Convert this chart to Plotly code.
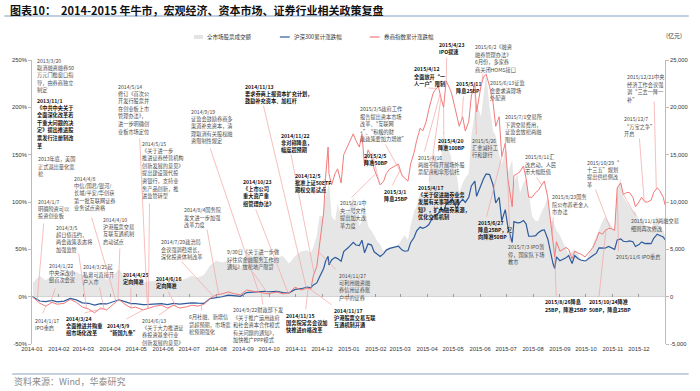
import plotly.graph_objects as go
import pandas as pd
import numpy as np

# ---------------- data ----------------
dates = [
    "2014-01-02", "2014-01-10", "2014-01-17", "2014-01-24", "2014-01-30",
    "2014-02-07", "2014-02-14", "2014-02-21", "2014-02-28",
    "2014-03-07", "2014-03-14", "2014-03-21", "2014-03-28",
    "2014-04-04", "2014-04-11", "2014-04-18", "2014-04-25", "2014-04-30",
    "2014-05-09", "2014-05-16", "2014-05-23", "2014-05-30",
    "2014-06-06", "2014-06-13", "2014-06-20", "2014-06-27",
    "2014-07-04", "2014-07-11", "2014-07-18", "2014-07-25",
    "2014-08-01", "2014-08-08", "2014-08-15", "2014-08-22", "2014-08-29",
    "2014-09-05", "2014-09-12", "2014-09-19", "2014-09-26", "2014-09-30",
    "2014-10-10", "2014-10-17", "2014-10-24", "2014-10-31",
    "2014-11-07", "2014-11-14", "2014-11-18", "2014-11-21", "2014-11-25", "2014-11-28",
    "2014-12-02", "2014-12-03", "2014-12-05", "2014-12-08", "2014-12-09", "2014-12-12",
    "2014-12-16", "2014-12-19", "2014-12-23", "2014-12-26", "2014-12-31",
    "2015-01-06", "2015-01-09", "2015-01-13", "2015-01-16", "2015-01-19", "2015-01-23",
    "2015-01-27", "2015-01-30",
    "2015-02-03", "2015-02-06", "2015-02-10", "2015-02-13", "2015-02-17", "2015-02-27",
    "2015-03-03", "2015-03-06", "2015-03-10", "2015-03-13", "2015-03-17", "2015-03-20",
    "2015-03-24", "2015-03-27", "2015-03-31",
    "2015-04-03", "2015-04-08", "2015-04-10", "2015-04-14", "2015-04-17", "2015-04-20",
    "2015-04-23", "2015-04-28", "2015-04-30",
    "2015-05-05", "2015-05-08", "2015-05-12", "2015-05-15", "2015-05-19", "2015-05-22",
    "2015-05-26", "2015-05-28",
    "2015-06-02", "2015-06-05", "2015-06-08", "2015-06-12", "2015-06-16", "2015-06-19",
    "2015-06-23", "2015-06-26", "2015-06-30",
    "2015-07-03", "2015-07-08", "2015-07-10", "2015-07-14", "2015-07-17", "2015-07-21",
    "2015-07-24", "2015-07-27", "2015-07-31",
    "2015-08-04", "2015-08-07", "2015-08-11", "2015-08-14", "2015-08-18", "2015-08-21",
    "2015-08-24", "2015-08-26", "2015-08-28",
    "2015-09-01", "2015-09-08", "2015-09-11", "2015-09-15", "2015-09-18", "2015-09-22",
    "2015-09-25", "2015-09-30",
    "2015-10-09", "2015-10-13", "2015-10-16", "2015-10-20", "2015-10-23", "2015-10-27",
    "2015-10-30",
    "2015-11-03", "2015-11-06", "2015-11-10", "2015-11-13", "2015-11-17", "2015-11-20",
    "2015-11-24", "2015-11-27",
    "2015-12-01", "2015-12-04", "2015-12-08", "2015-12-11", "2015-12-15", "2015-12-18",
    "2015-12-22", "2015-12-25", "2015-12-29", "2015-12-31",
]

hs300_pct = [
    -0.3, -4.6, -5.3, -4.0, -5.5,
    -4.7, -1.9, -3.4, -6.5,
    -7.0, -8.9, -7.4, -7.7,
    -5.9, -3.3, -5.3, -7.3, -7.3,
    -8.4, -8.2, -7.6, -7.3,
    -8.4, -7.0, -7.9, -7.5,
    -6.5, -6.9, -7.1, -2.0,
    -1.1, -0.1, 1.7, 0.6, 0.3,
    4.3, 4.8, 5.3, 5.7, 5.2,
    5.6, 4.3, 4.0, 7.7,
    8.4, 10.2, 9.3, 12.4, 14.5, 20.5,
    27.0, 30.0, 37.1, 42.6, 33.5, 38.8,
    41.5, 40.2, 37.5, 47.6, 51.6,
    57.3, 54.6, 54.0, 59.7, 46.3, 55.8, 54.5, 47.4,
    45.0, 42.5, 45.5, 49.2, 51.0, 53.3,
    49.5, 48.0, 48.5, 57.0, 62.5, 69.5, 73.5, 72.2, 73.9,
    76.2, 84.5, 85.4, 88.0, 94.5, 90.0, 98.0, 100.5, 103.8,
    93.0, 98.5, 103.0, 99.6, 105.0, 117.0, 122.0, 106.0,
    118.5, 124.5, 129.7, 129.0, 118.0, 99.0, 105.0, 80.0, 92.0,
    74.0, 57.2, 79.3, 78.0, 78.2, 80.5, 77.0, 63.9, 63.8,
    64.5, 67.5, 70.0, 70.6, 61.0, 45.9, 35.0, 29.8, 42.0,
    38.0, 41.0, 43.4, 35.0, 43.3, 40.0, 38.7, 37.5,
    43.4, 46.0, 51.6, 51.0, 51.2, 53.0, 51.7,
    50.0, 60.0, 61.0, 58.5, 58.0, 58.9, 58.0, 53.0,
    55.0, 57.8, 56.0, 56.3, 56.0, 61.7, 66.0, 64.7, 63.0, 60.1,
]

broker_pct = [
    -0.5, -7, -10, -6, -8,
    -7, -3, -6, -11,
    -13, -17, -12, -14,
    -9, -3, -8, -12, -11,
    -14, -12, -10, -9,
    -12, -9, -12, -11,
    -9, -10, -8, -2,
    2, 3, 5, 3, 2,
    7, 6, 5, 4, 3,
    5, 3, 4, 10,
    7, 9, 8, 22, 32, 55,
    80, 90, 125, 158, 130, 118,
    130, 135, 120, 150, 160,
    172, 165, 158, 172, 138, 155, 148, 135,
    125, 118, 122, 130, 135, 140,
    128, 125, 122, 140, 152, 165, 178, 175, 185,
    198, 215, 218, 222, 210, 200, 228, 218, 212,
    190, 180, 190, 175, 185, 212, 225, 195,
    222, 232, 235, 222, 205, 180, 190, 148, 162,
    125, 95, 128, 130, 132, 138, 125, 105, 105,
    110, 112, 118, 122, 105, 80, 55, 42, 58,
    48, 52, 50, 40, 48, 46, 45, 42,
    52, 60, 68, 66, 70, 72, 72,
    70, 115, 120, 108, 110, 110, 105, 95,
    100, 105, 100, 100, 102, 110, 115, 112, 105, 97,
]

turnover = [
    1500, 2200, 1700, 2300, 1500,
    1800, 2800, 2600, 2300,
    2100, 1900, 2200, 1800,
    2200, 2900, 2100, 1800, 1600,
    1500, 1600, 1700, 1800,
    1500, 1800, 1700, 1900,
    2200, 2000, 2300, 3300,
    3800, 3600, 3800, 3200, 3000,
    4600, 4200, 4800, 4300, 3900,
    4100, 4300, 3500, 4300,
    4800, 4900, 4600, 5200, 6500, 8500,
    8500, 9500, 10500, 11500, 12400, 8500,
    8000, 9800, 8500, 8800, 9000,
    10500, 9500, 7500, 8000, 9800, 7500, 7000, 6500,
    5800, 5500, 4800, 5000, 5200, 5500,
    6000, 6500, 6000, 7500, 9000, 9500, 11000, 10500, 11500,
    11500, 15000, 15000, 14000, 14500, 17500, 16000, 15000, 14000,
    13000, 11000, 12000, 12500, 13000, 17000, 19500, 20500,
    19000, 21000, 23500, 20000, 17500, 17000, 15000, 14000, 15500,
    13000, 14500, 12000, 13000, 11000, 12000, 12500, 11000, 8500,
    8000, 8000, 9000, 9500, 10500, 8000, 8000, 7500, 7000,
    6500, 5000, 4500, 4800, 5000, 4500, 4000, 3500,
    5500, 6500, 7000, 8000, 8500, 8000, 7500,
    7000, 11500, 12500, 10500, 10000, 9500, 9000, 9000,
    8000, 8500, 7500, 7500, 7000, 8000, 8500, 7500, 7000, 6500,
]

assert len(dates) == len(hs300_pct) == len(broker_pct) == len(turnover)

left_ticks = [-50, 0, 50, 100, 150, 200, 250]
right_ticks = [-5000, 0, 5000, 10000, 15000, 20000, 25000]

series_names = ["全市场股票成交额", "沪深300累计涨跌幅", "券商指数累计涨跌幅"]

event_texts = [
    "2013/3/20\n取消融资融券50\n万元门槛窗口指\n导，由券商独立\n制定",
    "2013/11/1\n《中共中央关于\n全面深化改革若\n干重大问题的决\n定》提出推进股\n票发行注册制改\n革",
    "2013年底，美国\n正式退出量化宽\n松",
    "2014/1/7\n明确险资可以\n投资创业板",
    "2014/1/22\n中央深改小\n组首次会议",
    "2014/1/17\nIPO重启",
    "2014/3/5\n超日债违约，\n两会政策表态将\n加强监管",
    "2014/3/24\n全面推进并购重\n组市场化改革",
    "2014/3/25起\n私募可直接开\n户入市",
    "2014/4/8\n中信/国君/银河/\n长城/平安/华创获\n第一批互联网证券\n业务试点资格",
    "2014/4/10\n沪港股票交易\n互联互通机制\n启动试点",
    "2014/4/25\n定向降准",
    "2014/5/9\n“新国九条”",
    "2014/5/14\n修订《首次公\n开发行股票并\n在创业板上市\n管理办法》，\n进一步明确创\n业板市场定位",
    "2014/5/15\n《关于进一步\n推进证券经营机构\n创新发展的意见》\n提出建设现代投\n资银行，支持业\n务产品创新，推\n进监管转型",
    "2014/6/13\n《关于大力推进证\n券投资基金行业\n创新发展的意见》",
    "2014/6/16\n定向降准",
    "2014/7/29政治局\n会议强调稳增长，\n深化投资体制改革",
    "6月社融、新增信\n贷超预期，市场宽\n松预期强化",
    "2014/8/4国务院\n发文进一步加强\n改革力度",
    "2014/9/19\n证监会鼓励券商多\n渠道补充资本，清\n理取消有关股权融\n资限制性规定",
    "9/30日《关于进一步做\n好住房金融服务工作的\n通知》放松地产限贷",
    "2014/9/22财政部下发\n《关于推广运用政府\n和社会资本合作模式\n有关问题的通知》，\n加快推广PPP模式",
    "2014/10/23\n《上市公司\n重大资产重\n组管理办法》",
    "2014/11/13\n要求券商上报资本扩充计划，\n鼓励补充资本、加杠杆",
    "2014/11/22\n非对称降息，\n幅度超预期",
    "2014/12/5\n批准上证50ETF\n期权交易试点",
    "2014/11/15\n国务院常务会议加\n快推进价格改革",
    "2014/11/17\n沪港股票交易互联\n互通机制开通",
    "2014/11/27\n可利用融资融\n券信用证券账\n户中的证券",
    "2015/2/1中\n央一号文件\n提出加大改\n革力度",
    "2015/2/5\n降准50BP",
    "2015/3/1\n降息25BP",
    "2015/3/5政府工作\n报告提出资本市场\n改革、“互联网\n+”、“积极的财\n政政策要加力增效”",
    "2015/4/12\n全面放开“一\n人一户”限制",
    "2015/4/23\nIPO提速",
    "2015/5/11\n降息25BP",
    "2015/6/2《融资\n融券管理办法》\n6月份，多家券\n商关闭HOMS接口",
    "2015/6/13证监\n会要求清理场\n外配资",
    "2015/7/1交易所\n下调交易费用，\n证监会放松两融\n限制",
    "2015/4/16\n两融不得开展场外股\n票配资和伞形信托",
    "2015/4/20\n降准100BP",
    "2015/5/26\n汇金减持工\n行和建行",
    "2015/4/17\n《关于促进融券业务\n发展有关事项的通\n知》，扩大融券来源，\n优化交易机制",
    "2015/6/27\n降息25BP，定\n向降准50BP",
    "2015/7/3 IPO暂\n停，国家队下场\n救市",
    "2015/8/11汇\n改启动，人民\n币大幅贬值",
    "2015/8/23国务\n院公布养老金入\n市办法",
    "2015/8/26降息\n25BP，降准25BP",
    "2015/10/24降准\n50BP，降息25BP",
    "2015/10/29“\n十三五”规划\n提出供给侧改\n革",
    "2015/11/6 IPO重启",
    "2015/11/13两融交易\n细则再次修改",
    "2015/12/7\n“万宝之争”\n开启",
    "2015/12/21中央\n经济工作会议强\n调“三去一降一\n补”",
]
event_dates = [
    None, None, None, "2014-01-07", "2014-01-22", "2014-01-17", "2014-03-05",
    "2014-03-24", "2014-03-25", "2014-04-08", "2014-04-10", "2014-04-25",
    "2014-05-09", "2014-05-14", "2014-05-15", "2014-06-13", "2014-06-16",
    "2014-07-29", "2014-07-15", "2014-08-04", "2014-09-19", "2014-09-30",
    "2014-09-22", "2014-10-23", "2014-11-13", "2014-11-22", "2014-12-05",
    "2014-11-15", "2014-11-17", "2014-11-27", "2015-02-01", "2015-02-05",
    "2015-03-01", "2015-03-05", "2015-04-12", "2015-04-23", "2015-05-11",
    "2015-06-02", "2015-06-13", "2015-07-01", "2015-04-16", "2015-04-20",
    "2015-05-26", "2015-04-17", "2015-06-27", "2015-07-03", "2015-08-11",
    "2015-08-23", "2015-08-26", "2015-10-24", "2015-10-29", "2015-11-06",
    "2015-11-13", "2015-12-07", "2015-12-21",
]
event_bold = [
    False, True, False, False, False, False, False,
    True, False, False, False, True,
    True, False, False, False, True,
    False, False, False, False, False,
    False, True, True, True, True,
    True, True, False, False, True,
    True, False, True, True, True,
    False, False, False, False, True,
    False, True, True, False, False,
    False, True, True, False, False,
    False, False, False,
]

# ---------------- layout helpers (pixel geometry) ----------------
L, R, T, B = 28, 669, 60, 344
W, H = R - L, B - T
X0, X1 = pd.Timestamp("2014-01-01"), pd.Timestamp("2015-12-31")
YMIN, YMAX = -50, 250


def pxp(px):
    return (px - L) / W


def pyp(py):
    return (B - py) / H


def px2date(px):
    return (X0 + (X1 - X0) * ((px - L) / W)).strftime("%Y-%m-%d %H:%M")


def py2val(py):
    return YMIN + (B - py) / H * (YMAX - YMIN)


# text block placement: (left px, first-line centre px, leader start px or None)
event_layout = [
    (31, 60, None), (31, 100, None), (32, 159, None),
    (32, 201, (40, 222)), (43, 265, (52, 287)), (29, 320, (38, 315)),
    (50, 227, (75, 252)), (60, 318, (80, 313)), (78, 267, (96, 286)),
    (68, 178, (88, 216)), (98, 219, (117, 247)), (118, 274, (128, 287)),
    (102, 325, (122, 320)), (113, 86, (137, 137)), (137, 143, (147, 202)),
    (137, 320, (155, 316)), (152, 278, (165, 290)), (157, 242, (178, 260)),
    (185, 317, (200, 312)), (180, 210, (205, 228)), (187, 111, (208, 147)),
    (223, 252, (250, 270)), (230, 310, (262, 306)), (240, 181, (254, 208)),
    (242, 86, (262, 104)), (278, 135, (290, 153)), (292, 175, (312, 196)),
    (283, 315, (305, 311)), (332, 310, (333, 306)), (337, 275, (337, 271)),
    (338, 203, (350, 199)), (362, 155, (372, 151)), (382, 191, (392, 187)),
    (358, 109, (385, 143)), (413, 69, (428, 88)), (438, 44, (448, 56)),
    (455, 83, (465, 95)), (475, 47, (485, 72)), (490, 83, (495, 101)),
    (505, 117, (507, 143)), (417, 157, (425, 153)), (437, 140, (445, 136)),
    (472, 140, (478, 136)), (417, 187, (430, 183)), (478, 222, (488, 218)),
    (508, 247, (512, 243)), (525, 157, (538, 176)), (553, 197, (556, 216)),
    (545, 302, (559, 298)), (590, 302, (602, 298)), (588, 162, (598, 188)),
    (617, 257, (622, 253)), (633, 221, (640, 217)), (625, 119, (643, 137)),
    (628, 77, (658, 100)),
]

LINE_GAP = 7.6
ANN_FONT = "Noto Sans CJK SC"

# ---------------- figure ----------------
fig = go.Figure()

fig.add_trace(go.Scatter(
    x=dates, y=turnover, name=series_names[0], yaxis="y",
    mode="lines", line=dict(width=0, color="#E3E3E3"),
    fill="tozeroy", fillcolor="#E6E6E6", showlegend=False, hoverinfo="skip",
))
fig.add_trace(go.Scatter(
    x=dates, y=hs300_pct, name=series_names[1], mode="lines", yaxis="y2",
    line=dict(color="#2D5B9E", width=1.2), showlegend=False,
))
fig.add_trace(go.Scatter(
    x=dates, y=broker_pct, name=series_names[2], mode="lines", yaxis="y2",
    line=dict(color="#F27A7A", width=1.0), showlegend=False,
))
fig.add_trace(go.Scatter(x=[dates[0]], y=[None], xaxis="x2", yaxis="y2",
                         showlegend=False, hoverinfo="skip"))

annotations = []
shapes = []

d_ord = np.array([pd.Timestamp(d).value for d in dates], dtype=float)
for text, ev, bold, (lx, cy, lead) in zip(event_texts, event_dates, event_bold, event_layout):
    for i, line in enumerate(text.split("\n")):
        annotations.append(dict(
            x=pxp(lx), y=pyp(cy + i * LINE_GAP), xref="paper", yref="paper",
            xanchor="left", yanchor="middle", showarrow=False,
            text=f"<b>{line}</b>" if bold else line,
            font=dict(family=ANN_FONT, size=5.2, color="#111111" if bold else "#4a4a4a"),
        ))
    if ev is not None and lead is not None:
        tip = float(np.interp(pd.Timestamp(ev).value, d_ord, broker_pct))
        annotations.append(dict(
            x=ev, y=tip, xref="x", yref="y2",
            ax=px2date(lead[0]), ay=py2val(lead[1]), axref="x", ayref="y2",
            text="", showarrow=True, arrowhead=0, arrowwidth=0.7,
            arrowcolor="#F4A3A3", standoff=0, startstandoff=0,
        ))

annotations.append(dict(
    x=pxp(4), y=pyp(10), xref="paper", yref="paper", xanchor="left", yanchor="middle",
    showarrow=False,
    text="<b>图表10：  2014-2015 年牛市，宏观经济、资本市场、证券行业相关政策复盘</b>",
    font=dict(family="Noto Sans CJK SC", size=11, color="#111111"),
))
annotations.append(dict(
    x=pxp(8), y=pyp(381), xref="paper", yref="paper", xanchor="left", yanchor="middle",
    showarrow=False, text="资料来源：Wind，华泰研究",
    font=dict(family="Noto Sans CJK SC", size=9, color="#8a8a8a"),
))
annotations.append(dict(
    x=pxp(678), y=pyp(35), xref="paper", yref="paper", xanchor="center", yanchor="middle",
    showarrow=False, text="(亿元)",
    font=dict(family="Noto Sans CJK SC", size=6, color="#333333"),
))
shapes.append(dict(type="line", xref="paper", yref="paper", x0=pxp(0), x1=pxp(693),
                   y0=pyp(16), y1=pyp(16), line=dict(color="#A9BCD6", width=1.5)))
shapes.append(dict(type="line", xref="paper", yref="paper", x0=pxp(8), x1=pxp(693),
                   y0=pyp(374), y1=pyp(374), line=dict(color="#C3D0E0", width=2)))

shapes.append(dict(type="rect", xref="paper", yref="paper", x0=pxp(192), x1=pxp(201),
                   y0=pyp(39), y1=pyp(35), line=dict(width=0), fillcolor="#E3E3E3"))
shapes.append(dict(type="line", xref="paper", yref="paper", x0=pxp(279), x1=pxp(289),
                   y0=pyp(37), y1=pyp(37), line=dict(color="#2D5B9E", width=1.2)))
shapes.append(dict(type="line", xref="paper", yref="paper", x0=pxp(370), x1=pxp(380),
                   y0=pyp(37), y1=pyp(37), line=dict(color="#F27A7A", width=1.2)))
for lx, name in zip([203, 291, 382], series_names):
    annotations.append(dict(
        x=pxp(lx), y=pyp(37), xref="paper", yref="paper", xanchor="left", yanchor="middle",
        showarrow=False, text=name, font=dict(family=ANN_FONT, size=5.5, color="#333333"),
    ))

tick_font = dict(family="Liberation Sans, Arial, sans-serif", size=5.8, color="#333333")

fig.update_layout(
    width=700, height=391,
    margin=dict(l=L, r=700 - R, t=T, b=391 - B),
    paper_bgcolor="white", plot_bgcolor="white",
    showlegend=False,
    xaxis=dict(
        type="date", range=[X0, X1], dtick="M1", tick0="2014-01-01",
        tickformat="%Y-%m", tickangle=0, showgrid=False, showline=False, ticks="",
        tickfont=tick_font, zeroline=False,
    ),
    xaxis2=dict(
        type="date", range=[X0, X1], dtick="M1", tick0="2014-01-01",
        overlaying="x", anchor="free", position=(0 - YMIN) / (YMAX - YMIN),
        showticklabels=False, showgrid=False, showline=False,
        ticks="inside", ticklen=3, tickcolor="#999999", tickwidth=0.8,
    ),
    yaxis=dict(
        range=[-5000, 25000], tickvals=right_ticks,
        ticktext=[f"{v:,}" for v in right_ticks],
        side="right", showgrid=False, zeroline=False,
        showline=True, linecolor="#BBBBBB", linewidth=0.8,
        ticks="outside", ticklen=3, tickcolor="#BBBBBB", tickfont=tick_font,
    ),
    yaxis2=dict(
        range=[YMIN, YMAX], tickvals=left_ticks, ticktext=[f"{v}%" for v in left_ticks],
        overlaying="y", side="left",
        showgrid=False, zeroline=True, zerolinecolor="#999999", zerolinewidth=1,
        showline=True, linecolor="#BBBBBB", linewidth=0.8,
        ticks="outside", ticklen=3, tickcolor="#BBBBBB", tickfont=tick_font,
    ),
    annotations=annotations,
    shapes=shapes,
)

fig.write_html(
    "out.html",
    config={"displayModeBar": False},
    post_script="document.body.style.margin='0';document.body.style.overflow='hidden';",
)
